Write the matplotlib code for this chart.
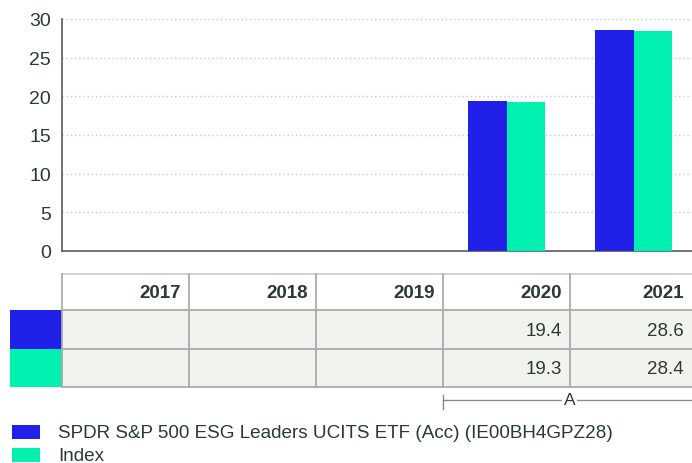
import matplotlib.pyplot as plt
from matplotlib.patches import Rectangle

plt.rcParams["font.family"] = ["Liberation Sans", "DejaVu Sans"]

# data
years = ["2017", "2018", "2019", "2020", "2021"]
fund = [None, None, None, 19.4, 28.6]
index = [None, None, None, 19.3, 28.4]
series_names = ["SPDR S&P 500 ESG Leaders UCITS ETF (Acc) (IE00BH4GPZ28)", "Index"]
colors = ["#2020e8", "#00f0b0"]
yticks = [0, 5, 10, 15, 20, 25, 30]

text_color = "#2b3a33"
W, H = 692, 464

fig = plt.figure(figsize=(W / 100, H / 100), dpi=100)

# chart area, in pixels: x 62..697 (runs slightly past the edge), y 20..252
left, right, top, bottom = 62, 697, 20, 252
ax = fig.add_axes([left / W, 1 - bottom / H, (right - left) / W, (bottom - top) / H])

n = len(years)
bw = 0.3
for i in range(n):
    if fund[i] is not None:
        ax.bar(i - bw / 2, fund[i], width=bw, color=colors[0], zorder=3)
    if index[i] is not None:
        ax.bar(i + bw / 2, index[i], width=bw, color=colors[1], zorder=3)

ax.set_xlim(-0.5, n - 0.5)
ax.set_ylim(0, 30)
ax.set_yticks(yticks)
ax.set_yticklabels([str(t) for t in yticks], fontsize=14, color=text_color)
ax.set_xticks([])
ax.tick_params(axis="y", length=0, pad=8)
ax.grid(axis="y", linestyle=(0, (1, 2)), color="#c8c8c8", linewidth=1, zorder=0)
for s in ["top", "right"]:
    ax.spines[s].set_visible(False)
for s in ["left", "bottom"]:
    ax.spines[s].set_color("#5a5a5a")
    ax.spines[s].set_linewidth(1.2)

# overlay axes in pixel coordinates for the table and legend
ov = fig.add_axes([0, 0, 1, 1])
ov.set_xlim(0, W)
ov.set_ylim(H, 0)
ov.axis("off")

# unit label, mostly cut off at the top edge
ov.text(left + 6, 3, "%", ha="center", va="bottom", fontsize=13, color=text_color)

col_w = (right - left) / n
row_tops = [275, 311, 350, 388]
grid_c = "#ababab"

# row backgrounds
for r in range(2):
    ov.add_patch(Rectangle((left, row_tops[r + 1]), right - left,
                           row_tops[r + 2] - row_tops[r + 1], color="#f2f2ee", lw=0))
    ov.add_patch(Rectangle((10, row_tops[r + 1]), left - 10,
                           row_tops[r + 2] - row_tops[r + 1], color=colors[r], lw=0))

# grid lines
ov.plot([left, right], [row_tops[0], row_tops[0]], color="#cfcfcf", lw=1.3)
for y in row_tops[1:]:
    ov.plot([left, right], [y, y], color=grid_c, lw=1.3)
for j in range(n):
    x = left + j * col_w
    ov.plot([x, x], [row_tops[0], row_tops[-1]], color=grid_c, lw=1.3)

for j, yr in enumerate(years):
    xr = min(left + (j + 1) * col_w, W) - 8
    ov.text(xr, (row_tops[0] + row_tops[1]) / 2 + 1, yr, ha="right", va="center",
            fontsize=13.5, fontweight="bold", color=text_color)
    for r, vals in enumerate([fund, index]):
        if vals[j] is not None:
            ov.text(xr, (row_tops[r + 1] + row_tops[r + 2]) / 2 + 1, f"{vals[j]:.1f}",
                    ha="right", va="center", fontsize=13.5, color=text_color)

# "A" bracket spanning 2020-2021
xa = left + 3 * col_w
ov.plot([xa, W], [401, 401], color="#8a8a8a", lw=1)
ov.plot([xa, xa], [396, 410], color="#8a8a8a", lw=1)
ov.text((xa + W) / 2 + 2, 401, "A", ha="center", va="center", fontsize=12.5,
        color=text_color, bbox=dict(facecolor="white", edgecolor="none", pad=1))

# legend
for k, name in enumerate(series_names):
    yc = 433 + k * 23
    ov.add_patch(Rectangle((12, yc - 7), 28, 14, color=colors[k], lw=0))
    ov.text(58, yc + 1, name, ha="left", va="center", fontsize=13.6, color=text_color)

fig.savefig("out.png", dpi=100)
